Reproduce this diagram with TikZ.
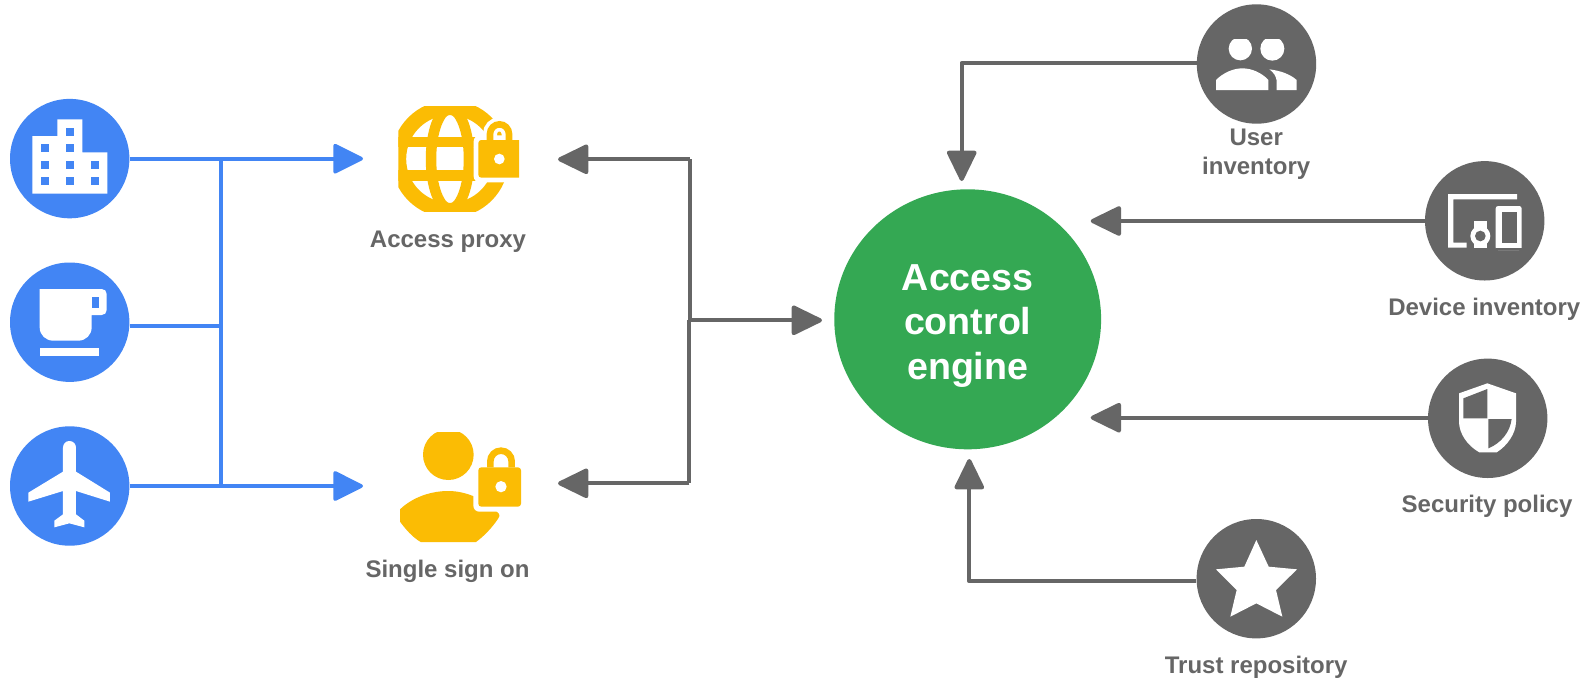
\documentclass[tikz,border=0pt]{standalone}
\usepackage{fontspec}
\setmainfont{Liberation Sans}
\usetikzlibrary{arrows.meta,shapes.geometric}
\definecolor{gblue}{HTML}{4285F4}
\definecolor{ggray}{HTML}{666666}
\definecolor{ggreen}{HTML}{34A853}
\definecolor{gyellow}{HTML}{FBBC04}
\tikzset{
  disc/.style={circle,inner sep=0pt,minimum size=119.4pt,fill=#1},
  lab/.style={anchor=base,inner sep=0pt,align=center,text=ggray,font=\fontsize{24}{29}\selectfont\bfseries},
  blueline/.style={draw=gblue,line width=3.6pt},
  grayline/.style={draw=ggray,line width=4pt,line join=round},
  tipblue/.style={-{Triangle[length=32pt,width=31pt,round,sep=-3pt]}},
  tipgray/.style={-{Triangle[length=33pt,width=31pt,round,sep=-1pt]}},
  zoomed/.style={x=0.33333pt,y=-0.33333pt}
}
\begin{document}
\begin{tikzpicture}[x=1pt,y=-1pt]
\useasboundingbox (0,0) rectangle (1593,681);
\fill[white] (0,0) rectangle (1593,681);
% connector ends
\coordinate (proxyin) at (360,158.7);
\coordinate (ssoin) at (360,486);
\coordinate (proxyout) at (559,159.3);
\coordinate (ssoout) at (559,483.3);
\coordinate (busU) at (690,159.3);
\coordinate (busM) at (690,320.3);
\coordinate (busL) at (689.3,483.3);
\coordinate (engL) at (821,320.3);
\coordinate (tipU) at (961.7,180);
\coordinate (elbowU) at (961.7,62.9);
\coordinate (tipD) at (1091.7,221);
\coordinate (tipP) at (1091.7,417.7);
\coordinate (tipT) at (969.3,460);
\coordinate (elbowT) at (969.3,581.3);
\coordinate (vtop) at (220.7,158.7);
\coordinate (vmid) at (220.7,325.7);
\coordinate (vbot) at (220.7,486);
% nodes
\node[disc=gblue] (bldg) at (69.7,158.6) {};
\node[disc=gblue] (cup) at (69.7,322.2) {};
\node[disc=gblue] (plane) at (69.7,486) {};
\node[disc=ggray] (user) at (1256.5,64) {};
\node[disc=ggray] (device) at (1484.7,220.8) {};
\node[disc=ggray] (policy) at (1487.7,418.3) {};
\node[disc=ggray] (trust) at (1256.3,578.7) {};
\node[ellipse,fill=ggreen,inner sep=0pt,minimum width=266.8pt,minimum height=260pt] (engine) at (967.7,319.3) {};
\node[inner sep=0pt,text=white,align=center,font=\fontsize{37.6}{44.5}\selectfont\bfseries] (enginetext) at (967.7,325.6) {Access\\control\\engine};
\node[lab] (lproxy) at (448,247.7) {Access proxy};
\node[lab] (lsso) at (447.5,577.2) {Single sign on};
\node[lab] (luser) at (1256.2,174) {User\\inventory};
\node[lab] (ldevice) at (1484.3,315.7) {Device inventory};
\node[lab] (lpolicy) at (1487,512.2) {Security policy};
\node[lab] (ltrust) at (1256.2,673.3) {Trust repository};
% blue connectors
\draw[blueline,tipblue] (bldg.east |- proxyin) -- (proxyin);
\draw[blueline,tipblue] (plane.east |- ssoin) -- (ssoin);
\draw[blueline] (vtop) -- (vbot);
\draw[blueline] (cup.east |- vmid) -- (vmid);
% gray connectors
\draw[grayline,tipgray] (busU) -- (proxyout);
\draw[grayline] (busU) -- (busM);
\draw[grayline,tipgray] (busL) -- (ssoout);
\draw[grayline] (busM -| busL) -- (busL);
\draw[grayline,tipgray] (busM -| busL) -- (engL);
\draw[grayline,tipgray] (user.west |- elbowU) -- (elbowU) -- (tipU);
\draw[grayline,tipgray] (device.west |- tipD) -- (tipD);
\draw[grayline,tipgray] (policy.west |- tipP) -- (tipP);
\draw[grayline,tipgray] (trust.west |- elbowT) -- (elbowT) -- (tipT);
% building
\begin{scope}[shift={(0,80)},zoomed]
\fill[white] (97,168) -- (172,168) -- (172,118) -- (247,118) -- (247,217) -- (322,217) -- (322,341) -- (97,341) -- cycle;
\foreach \a/\b in {197/143,122/192,197/192,122/242,197/242,272/242,122/291,197/291,272/291}
  \fill[gblue] (\a,\b) rectangle ++(25,25);
% cup
\fill[white] (119,627) -- (305,627) .. controls (314,627) and (320,633) .. (320,642) -- (320,690) .. controls (320,699) and (314,705) .. (305,705) -- (275,705) -- (275,742) .. controls (275,765) and (257,782) .. (235,782) -- (160,782) .. controls (137,782) and (119,765) .. (119,742) -- cycle;
\fill[gblue] (275,650) rectangle (298,683);
\fill[white] (119,805) rectangle (298,828);
% plane
\fill[white] (189,1103) .. controls (189,1092) and (197,1083) .. (208,1083) .. controls (220,1083) and (228,1092) .. (228,1103) -- (228,1175) -- (330,1238) -- (330,1265) -- (228,1233) -- (228,1303) -- (253,1322) -- (253,1342) -- (208,1330) -- (163,1342) -- (163,1322) -- (189,1303) -- (189,1233) -- (85,1265) -- (85,1238) -- (189,1175) -- cycle;
\end{scope}
% globe with lock
\begin{scope}[shift={(350,90)},zoomed]
\begin{scope}
\clip (145,48) rectangle (507,365);
\draw[gyellow,line width=15pt] (300,207) circle (154);
\draw[gyellow,line width=10.5pt] (300,207) ellipse (57 and 150);
\fill[gyellow] (130,140) rectangle (470,172);
\fill[gyellow] (130,240) rectangle (470,272);
\fill[white,rounded corners=6pt] (371,136) rectangle (530,277);
\draw[white,line width=14pt] (420,150) -- (420,132) arc[start angle=180,end angle=360,x radius=28,y radius=29] -- (477,150);
\fill[gyellow,rounded corners=3pt] (385,150) rectangle (525,263);
\draw[gyellow,line width=6.6pt] (420,150) -- (420,132) arc[start angle=180,end angle=360,x radius=28.5,y radius=29] -- (477,150);
\fill[white] (448,207) circle (16);
\end{scope}
\end{scope}
% person with lock
\begin{scope}[shift={(350,410)},zoomed]
\begin{scope}
\clip (150,66) rectangle (520,396);
\fill[gyellow] (295,134) circle (76);
\fill[gyellow] (150,298) .. controls (190,260) and (245,243) .. (295,243) .. controls (350,243) and (410,270) .. (447,312) .. controls (449,316) and (449,320) .. (445,325) .. controls (425,355) and (400,380) .. (378,396) -- (212,396) .. controls (185,380) and (165,355) .. (150,335) -- cycle;
\fill[white,rounded corners=6pt] (370,157) rectangle (530,305);
\fill[gyellow,rounded corners=3pt] (385,172) rectangle (513,290);
\draw[gyellow,line width=6.6pt] (421,172) -- (421,154) arc[start angle=180,end angle=360,x radius=32,y radius=32] -- (485,172);
\fill[white] (453,230) circle (17);
\end{scope}
\end{scope}
% users
\begin{scope}[shift={(1160,0)},zoomed]
\begin{scope}
\clip (150,117) rectangle (420,300);
\fill[white] (241,146) circle (35);
\fill[white] (337,146) circle (36);
\end{scope}
\fill[white] (168,270) -- (168,240) .. controls (190,218) and (220,205) .. (247,205) .. controls (275,205) and (305,218) .. (325,240) -- (325,270) -- cycle;
\fill[white] (350,270) -- (350,242) .. controls (348,228) and (340,216) .. (328,208) .. controls (360,212) and (390,222) .. (410,240) -- (410,270) -- cycle;
\end{scope}
% devices
\begin{scope}[shift={(1390,150)},zoomed]
\fill[white] (174,132) -- (381,132) -- (381,148) -- (190,148) -- (190,278) -- (230,278) -- (230,293) -- (174,293) -- cycle;
\fill[white] (252,213) rectangle (290,240);
\fill[white] (252,270) rectangle (290,293);
\fill[white] (271,258) circle (30);
\fill[ggray] (271,258) circle (16);
\fill[white,rounded corners=2.5pt] (317,168) rectangle (395,300);
\fill[ggray] (317,293) rectangle (396,301);
\fill[ggray] (335,187) rectangle (381,280);
\end{scope}
% shield
\begin{scope}[shift={(1390,345)},zoomed]
\fill[white] (292,115) -- (378,145) -- (378,230) .. controls (378,265) and (352,302) .. (320,322) -- (268,322) .. controls (232,302) and (207,265) .. (207,230) -- (207,145) -- cycle;
\fill[ggray] (220,160) -- (292,132) -- (292,220) -- (220,220) -- cycle;
\fill[ggray] (295,222) -- (365,222) .. controls (360,262) and (332,295) .. (295,310) -- cycle;
\end{scope}
% star
\begin{scope}[shift={(1160,505)},zoomed]
\fill[white] (289,105) -- (326,185) -- (411,193) -- (348,255) -- (367,335) -- (289,295) -- (211,335) -- (230,255) -- (168,193) -- (253,185) -- cycle;
\end{scope}
\end{tikzpicture}
\end{document}
